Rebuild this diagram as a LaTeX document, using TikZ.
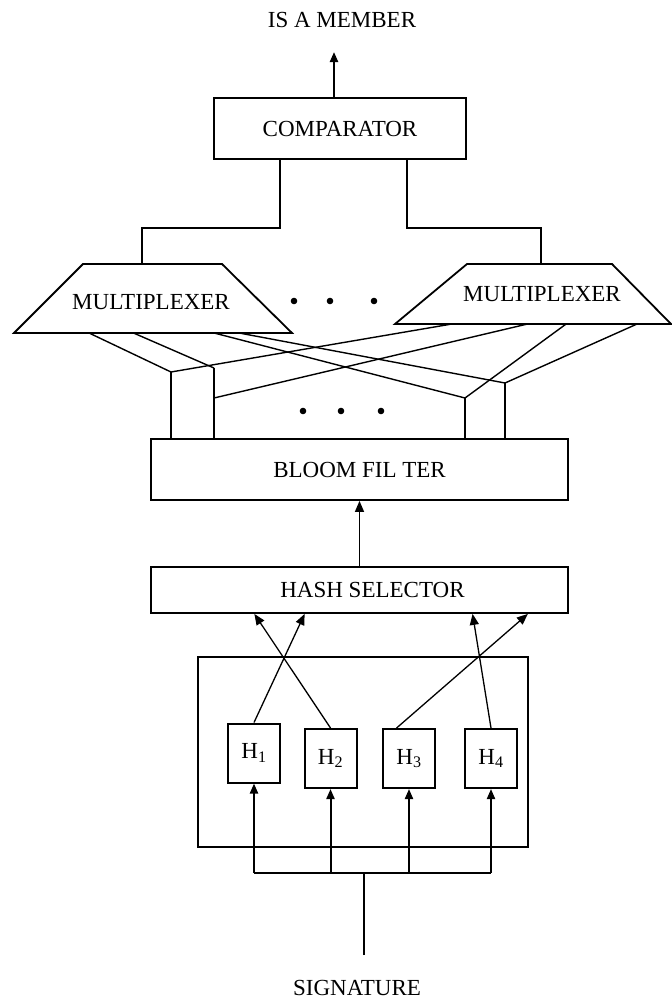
\documentclass[tikz,border=0pt]{standalone}
\usepackage{fontspec}
\setmainfont{Liberation Serif}
\usetikzlibrary{positioning,arrows.meta,calc}
\tikzset{
  txt/.style={font=\fontsize{23}{27}\selectfont, inner sep=0pt},
  block/.style={draw, txt, line width=1.8pt},
  muxline/.style={line width=1.8pt, line join=miter},
  hbox/.style={draw, txt, line width=2pt, minimum width=52pt, minimum height=59pt},
  wire/.style={line width=1.4pt},
  feed/.style={line width=2pt, -{Triangle[length=10pt,width=8pt]}},
  thinfeed/.style={line width=1.3pt, -{Triangle[length=11pt,width=9pt]}},
}
\begin{document}
\begin{tikzpicture}[x=1pt, y=-1pt]
\useasboundingbox (0,0) rectangle (672,999);
% comparator and output
\node[txt] (member) at (342,20) {IS A MEMBER};
\node[block, minimum width=252pt, minimum height=61pt] (comp) at (340,128.5) {COMPARATOR};
\coordinate (out) at (334,52);
\draw[feed, line width=2.2pt] (comp.north -| out) -- (out);

% multiplexers
\draw[muxline] (14,333) coordinate (m1bl) -- (83,264) coordinate (m1tl)
  -- (222,264) -- (292,333) coordinate (m1br) -- cycle;
\node[txt] (mux1) at (151,302) {MULTIPLEXER};
\draw[muxline] (395,324) coordinate (m2bl) -- (467,264) coordinate (m2tl)
  -- (612,264) -- (671,324) coordinate (m2br) -- cycle;
\node[txt] (mux2) at (542,294) {MULTIPLEXER};
\coordinate (t1) at (280,228);
\coordinate (t2) at (142,228);
\coordinate (t3) at (407,228);
\coordinate (t4) at (541,228);
\draw[wire] (comp.south -| t1) -- (t1) -- (t2) -- (t2 |- m1tl);
\draw[wire] (comp.south -| t3) -- (t3) -- (t4) -- (t4 |- m2tl);
\foreach \x in {294,330,374} \fill (\x,301) circle (3.3pt);

% bloom filter and its inputs
\node[block, minimum width=417pt, minimum height=61pt] (bloom) at (359.5,469.5) {BLOOM FIL TER};
\coordinate (j1) at (171,372);
\coordinate (j2) at (214,368);
\coordinate (j3) at (465,398);
\coordinate (j4) at (505,383);
\coordinate (j5) at (214,398);
\foreach \f/\j in {0.27/j1, 0.43/j2, 0.72/j3, 0.81/j4}
  \draw[wire] ($(m1bl)!\f!(m1br)$) -- (\j);
\foreach \f/\j in {0.206/j1, 0.48/j5, 0.62/j3, 0.877/j4}
  \draw[wire] ($(m2bl)!\f!(m2br)$) -- (\j);
\foreach \j in {j1,j2,j3,j4}
  \draw[wire] (\j) -- (\j |- bloom.north);
\foreach \x in {303,341,381} \fill (\x,411) circle (3.3pt);

% hash selector
\node[block, minimum width=417pt, minimum height=46pt] (hash) at (359.5,590) {\hspace{26pt}HASH SELECTOR};
\draw[thinfeed] (hash.north -| bloom.south) -- (bloom.south);

% hash functions
\node[draw, line width=1.8pt, minimum width=330pt, minimum height=190pt] (hfun) at (363,752) {};
\node[hbox] (h1) at (254,753) {H\textsubscript{1}};
\node[hbox] (h2) at (330.5,758.5) {H\textsubscript{2}};
\node[hbox] (h3) at (409,758.5) {H\textsubscript{3}};
\node[hbox] (h4) at (491,758.5) {H\textsubscript{4}};
\draw[thinfeed] (h1.north) -- ($(hash.south west)!0.369!(hash.south east)$);
\draw[thinfeed] (h2.north) -- ($(hash.south west)!0.249!(hash.south east)$);
\draw[thinfeed] ($(h3.north west)!0.27!(h3.north east)$) -- ($(hash.south west)!0.902!(hash.south east)$);
\draw[thinfeed] (h4.north) -- ($(hash.south west)!0.770!(hash.south east)$);

% signature input
\node[txt] (sig) at (357,988) {SIGNATURE};
\coordinate (bus) at (364,873);
\coordinate (in) at (364,955);
\draw[line width=2pt] (in) -- (bus);
\draw[line width=2pt] (h1.south |- bus) -- (h4.south |- bus);
\foreach \h in {h1,h2,h3,h4}
  \draw[feed] (\h.south |- bus) -- (\h.south);
\end{tikzpicture}
\end{document}
